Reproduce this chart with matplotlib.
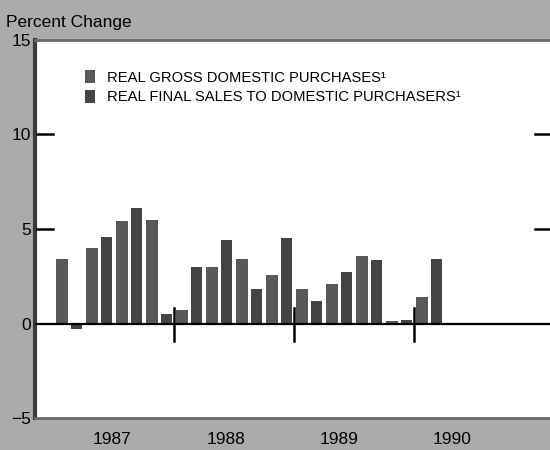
import matplotlib
matplotlib.use("Agg")
import matplotlib.pyplot as plt
import numpy as np

# Data (percent change, quarterly, 1987Q1 - 1990Q4)
quarters = ["1987Q1", "1987Q2", "1987Q3", "1987Q4",
            "1988Q1", "1988Q2", "1988Q3", "1988Q4",
            "1989Q1", "1989Q2", "1989Q3", "1989Q4",
            "1990Q1", "1990Q2", "1990Q3", "1990Q4"]
gross_purchases = [3.4, 4.0, 5.4, 5.5, 0.7, 3.0, 3.4, 2.55, 1.8, 2.1, 3.55, 0.15, 1.4, 0.0, 0.0, 0.0]
final_sales = [-0.3, 4.6, 6.1, 0.5, 3.0, 4.4, 1.8, 4.5, 1.2, 2.7, 3.35, 0.2, 3.4, 0.0, 0.0, 0.0]
years = ["1987", "1988", "1989", "1990"]
y_ticks = [15, 10, 5, 0, -5]
y_tick_labels = ["15", "10", "5", "0", "\u22125"]
legend_labels = ["REAL GROSS DOMESTIC PURCHASES\u00b9", "REAL FINAL SALES TO DOMESTIC PURCHASERS\u00b9"]

bg = "#ababab"
c_gross = "#595959"
c_final = "#444444"

fig = plt.figure(figsize=(5.5, 4.5), dpi=100, facecolor=bg)
ax = fig.add_axes([35/550, 32/450, 515/550, 378/450])
ax.set_facecolor("white")

x = np.arange(len(quarters))
w = 0.38
b1 = ax.bar(x + 0.27, gross_purchases, width=w, color=c_gross, edgecolor="none", zorder=2)
b2 = ax.bar(x + 0.75, final_sales, width=w, color=c_final, edgecolor="none", zorder=2)

ax.set_xlim(-0.633, 16.53)
ax.set_ylim(-5, 15)

# zero line
ax.axhline(0, color="black", lw=1.6, zorder=3)
# year separators
for s in [4, 8, 12]:
    ax.plot([s, s], [-0.9, 0.8], color="black", lw=1.8, zorder=3)
# inner ticks at 5 and 10, both sides
for yv in [5, 10]:
    ax.plot([-0.57, -0.03], [yv, yv], color="black", lw=1.8, zorder=3)
    ax.plot([16.03, 16.53], [yv, yv], color="black", lw=1.8, zorder=3)

# spines
ax.spines["right"].set_visible(False)
ax.spines["left"].set_color("#3a3a3a")
ax.spines["left"].set_linewidth(3)
ax.spines["top"].set_color("#6a6a6a")
ax.spines["top"].set_linewidth(2)
ax.spines["bottom"].set_color("#6a6a6a")
ax.spines["bottom"].set_linewidth(2)

fam = ["Liberation Sans", "DejaVu Sans"]
ax.set_yticks(y_ticks)
ax.set_yticklabels(y_tick_labels, family=fam, fontsize=12.5)
ax.tick_params(axis="y", length=0, pad=3)

year_pos = [1.93, 5.73, 9.5, 13.27]
ax.set_xticks(year_pos)
ax.set_xticklabels(years, family=fam, fontsize=12.5)
ax.tick_params(axis="x", length=0, pad=10)

fig.text(6/550, 1 - 22/450, "Percent Change", family=fam, fontsize=12.5, va="center", ha="left")

# legend
leg = ax.legend([b1, b2], legend_labels, loc="upper left", bbox_to_anchor=(0.072, 0.955),
                frameon=False, handlelength=0.65, handleheight=0.95, handletextpad=0.85,
                labelspacing=0.35, prop={"family": fam, "size": 10.6})

fig.savefig("out.png", dpi=100, facecolor=bg)
